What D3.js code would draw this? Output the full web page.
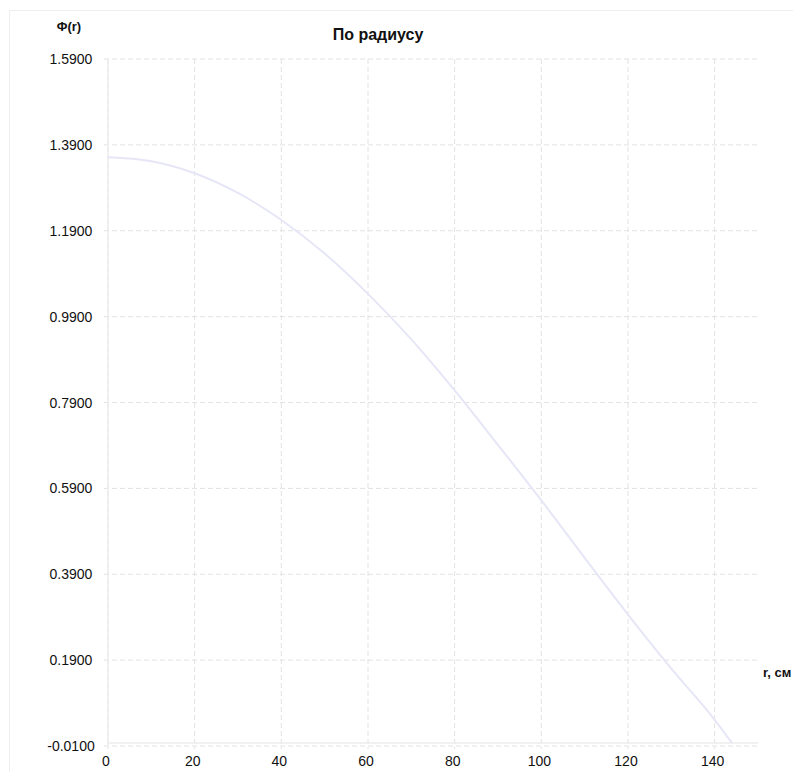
<!DOCTYPE html>
<html>
<head>
<meta charset="utf-8">
<script src="https://cdn.jsdelivr.net/npm/d3@7"></script>
<style>
  body { margin: 0; background: #fff; font-family: "Liberation Sans", Arial, sans-serif; }
  .grid line { stroke: #e2e2e2; stroke-dasharray: 5,3; }
  .line { fill: none; stroke: #e6e6f7; stroke-width: 2; }
</style>
</head>
<body>
<div class="chart"></div>
<script>
// radius, cm
var radius = [0, 10, 20, 30, 40, 50, 60, 70, 80, 90, 100, 110, 120, 130, 140, 144];
// flux values
var flux = [1.361, 1.352, 1.324, 1.278, 1.215, 1.137, 1.043, 0.937, 0.818, 0.691, 0.562, 0.428, 0.296, 0.170, 0.051, -0.003];

var xTicks = [0, 20, 40, 60, 80, 100, 120, 140];
var yTicks = [-0.01, 0.19, 0.39, 0.59, 0.79, 0.99, 1.19, 1.39, 1.59];

var chartTitle = "По радиусу";
var xLabel = "r, см";
var yLabel = "Φ(r)";

var W = 793, H = 772;
var margin = {top: 59, left: 108, right: 35, bottom: 26};

var x = d3.scaleLinear().domain([0, 150]).range([margin.left, W - margin.right]);
var y = d3.scaleLinear().domain([-0.01, 1.59]).range([H - margin.bottom, margin.top]);

var svg = d3.select(".chart").append("svg")
    .attr("width", W)
    .attr("height", H);

// outer frame
svg.append("rect")
    .attr("x", 9.5).attr("y", 10.5)
    .attr("width", 820).attr("height", 820)
    .attr("fill", "none")
    .attr("stroke", "#efefef");

// horizontal grid
svg.append("g").attr("class", "grid")
    .selectAll("line").data(yTicks).enter().append("line")
    .attr("x1", margin.left - 4).attr("x2", x(150))
    .attr("y1", function(d){ return y(d); })
    .attr("y2", function(d){ return y(d); });

// vertical grid
svg.append("g").attr("class", "grid")
    .selectAll("line").data(xTicks).enter().append("line")
    .attr("x1", function(d){ return x(d); })
    .attr("x2", function(d){ return x(d); })
    .attr("y1", y(1.59)).attr("y2", y(-0.01) + 3);

// axis lines
svg.append("line")
    .attr("x1", x(0)).attr("x2", x(0))
    .attr("y1", y(1.59)).attr("y2", y(-0.01))
    .attr("stroke", "#ececec").attr("stroke-width", 1.5);
svg.append("line")
    .attr("x1", x(0)).attr("x2", x(150))
    .attr("y1", y(-0.01) - 3).attr("y2", y(-0.01) - 3)
    .attr("stroke", "#ececec").attr("stroke-width", 1.5);

// y tick labels (plain hyphen for the minus sign)
svg.append("g").selectAll("text").data(yTicks).enter().append("text")
    .attr("x", 71)
    .attr("y", function(d){ return y(d) + 5; })
    .attr("text-anchor", "middle")
    .attr("font-size", "14px")
    .attr("fill", "#111")
    .text(function(d){ return d.toFixed(4); });

// x tick labels
svg.append("g").selectAll("text").data(xTicks).enter().append("text")
    .attr("x", function(d){ return x(d) - 2; })
    .attr("y", H - 6)
    .attr("text-anchor", "middle")
    .attr("font-size", "14px")
    .attr("fill", "#111")
    .text(function(d){ return d; });

// the curve
var line = d3.line()
    .curve(d3.curveMonotoneX)
    .x(function(d, i){ return x(radius[i]); })
    .y(function(d){ return y(d); });

svg.append("path")
    .attr("class", "line")
    .attr("d", line(flux));

// title and axis labels
svg.append("text")
    .attr("x", 378).attr("y", 40)
    .attr("text-anchor", "middle")
    .attr("font-size", "16px")
    .attr("font-weight", "bold")
    .attr("fill", "#111")
    .text(chartTitle);

svg.append("text")
    .attr("x", 69).attr("y", 31)
    .attr("text-anchor", "middle")
    .attr("font-size", "13px")
    .attr("font-weight", "bold")
    .attr("fill", "#111")
    .text(yLabel);

svg.append("text")
    .attr("x", 763).attr("y", 677)
    .attr("font-size", "13px")
    .attr("font-weight", "bold")
    .attr("fill", "#111")
    .text(xLabel);
</script>
</body>
</html>
